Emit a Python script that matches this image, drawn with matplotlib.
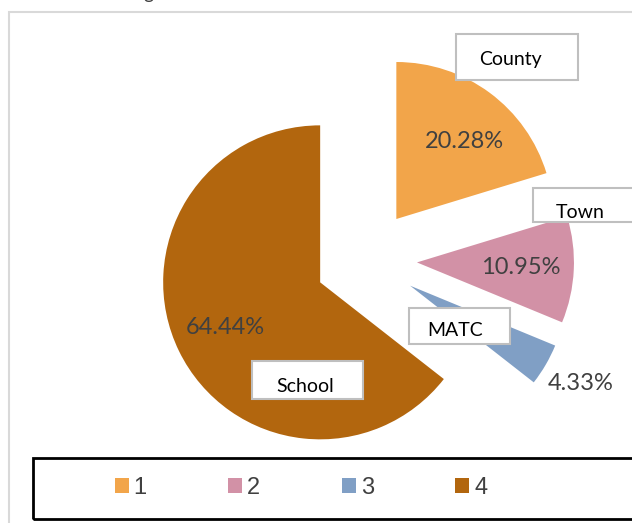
import matplotlib
matplotlib.use('Agg')
import matplotlib.pyplot as plt
from matplotlib.patches import Rectangle, Patch

# data
names = ['County', 'Town', 'MATC', 'School']
shares = [20.28, 10.95, 4.33, 64.44]
legend_labels = ['1', '2', '3', '4']
colors = ['#F2A54A', '#D291A6', '#809FC5', '#B2660E']

W, H = 632, 523


def py(y):
    # pixel row (from top) -> data y
    return H - y


fig = plt.figure(figsize=(W / 100, H / 100), dpi=100)
ax = fig.add_axes([0, 0, 1, 1])

ax.pie(shares, colors=colors, startangle=90, counterclock=False,
       radius=157, center=(366, py(260)), explode=[51] * 4,
       wedgeprops=dict(linewidth=0))
ax.set_xlim(0, W)
ax.set_ylim(0, H)
ax.set_aspect('auto')
ax.axis('off')

# chart area border
ax.add_patch(Rectangle((9, py(540)), 700, 528, fill=False,
                       edgecolor='#D9D9D9', linewidth=1.5, zorder=0))

# percentage labels
pct_pos = [(464, 141), (521, 267), (581, 384), (225, 327)]
for v, (x, y) in zip(shares, pct_pos):
    ax.text(x, py(y), f'{v:.2f}%', ha='center', va='center',
            fontsize=17, color='#404040', family='Lato')

# name callouts
boxes = [(456, 34, 122, 46), (533, 188, 110, 34), (409, 308, 101, 36),
         (252, 361, 111, 38)]
name_pos = [(510, 59), (580, 213), (455, 331), (305, 387)]
for name, (bx, by, bw, bh), (tx, ty) in zip(names, boxes, name_pos):
    ax.add_patch(Rectangle((bx, py(by + bh)), bw, bh, facecolor='white',
                           edgecolor='#BFBFBF', linewidth=1.5, zorder=5))
    ax.text(tx, py(ty), name, ha='center', va='center', fontsize=14,
            color='black', family='Lato', zorder=6)

# clipped title fragment at the very top
ax.text(148, py(-1), 'g', ha='center', va='baseline', fontsize=14,
        color='#404040', family='Lato')

# legend frame
ax.add_patch(Rectangle((33, py(519)), 640, 61, fill=False,
                       edgecolor='black', linewidth=2, zorder=5))
handles = [Patch(facecolor=c, edgecolor='none') for c in colors]
leg = ax.legend(handles, legend_labels, ncol=4, frameon=False,
                loc='center', bbox_to_anchor=(301 / W, 1 - 488 / H),
                prop={'family': 'Liberation Sans', 'size': 17},
                handlelength=0.6, handleheight=0.6, handletextpad=0.2,
                columnspacing=3.45, labelcolor='#404040')

fig.savefig('out.png', dpi=100)
